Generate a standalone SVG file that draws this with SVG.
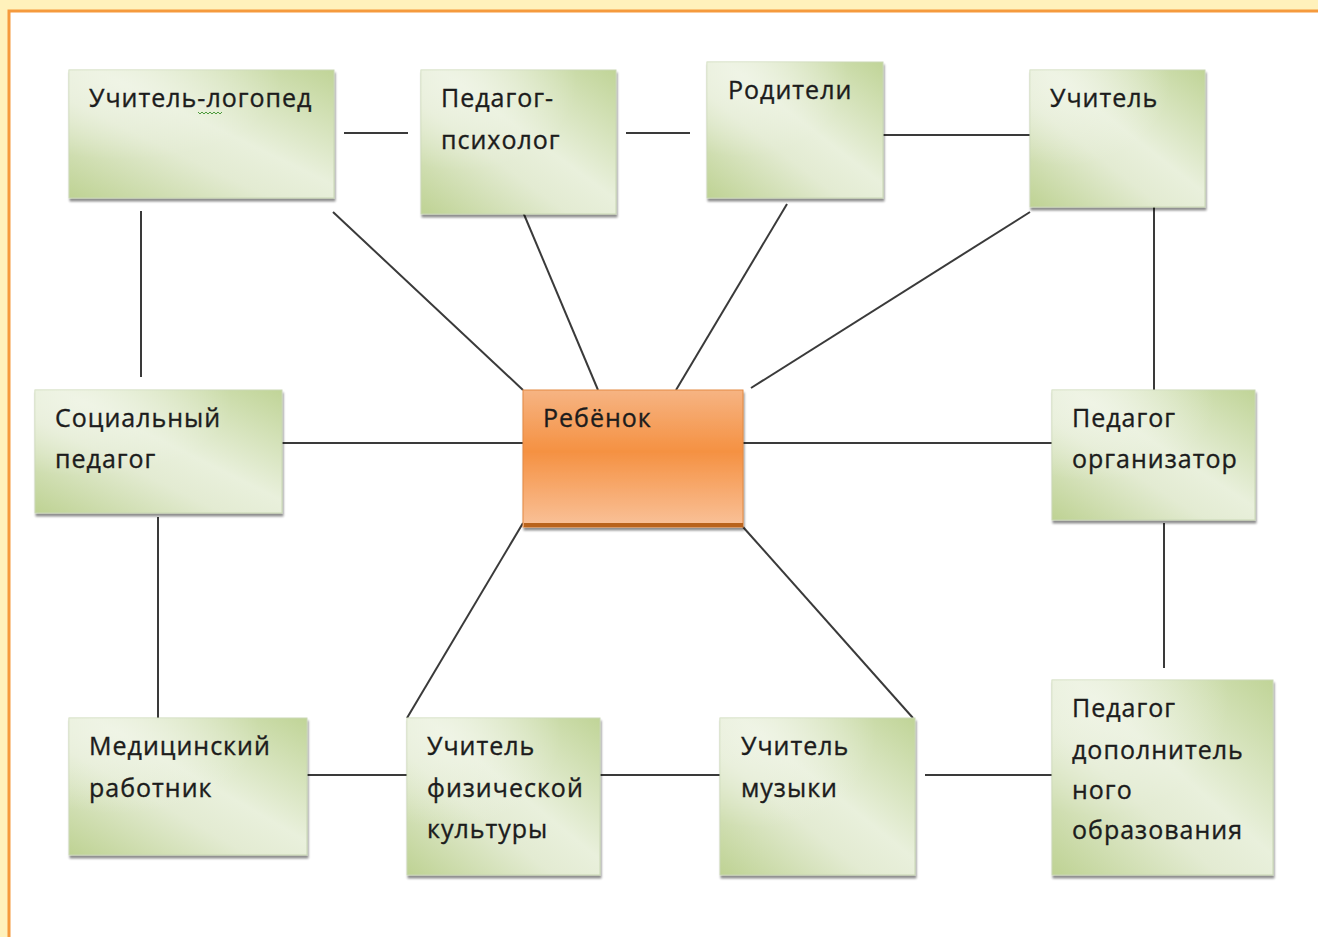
<svg xmlns="http://www.w3.org/2000/svg" width="1318" height="937" viewBox="0 0 1318 937">
<defs>
<linearGradient id="gg" x1="1" y1="0" x2="0" y2="1">
<stop offset="0" stop-color="#c0d497"/>
<stop offset="0.45" stop-color="#e9f0dc"/>
<stop offset="0.62" stop-color="#e3ebd2"/>
<stop offset="1" stop-color="#bed293"/>
</linearGradient>
<radialGradient id="gl" cx="0.2" cy="0.1" r="0.6">
<stop offset="0" stop-color="#f2f6ea" stop-opacity="0.7"/>
<stop offset="1" stop-color="#f2f6ea" stop-opacity="0"/>
</radialGradient>
<linearGradient id="og" x1="0" y1="0" x2="0" y2="1">
<stop offset="0" stop-color="#f6b483"/>
<stop offset="0.45" stop-color="#f59142"/>
<stop offset="1" stop-color="#f9c29a"/>
</linearGradient>
<filter id="sh" x="-5%" y="-5%" width="115%" height="120%">
<feGaussianBlur in="SourceAlpha" stdDeviation="1.2"/>
<feOffset dx="1" dy="3" result="b"/>
<feComponentTransfer><feFuncA type="linear" slope="0.45"/></feComponentTransfer>
<feMerge><feMergeNode/><feMergeNode in="SourceGraphic"/></feMerge>
</filter>
</defs>
<style>
.n{fill:url(#gg);stroke:#c9d7b4;stroke-width:1;filter:url(#sh)}
.hl{fill:url(#gl)}
.c{fill:url(#og);stroke:#e38a45;stroke-width:1;filter:url(#sh)}
.t{font-family:"Open Sans","Noto Sans","DejaVu Sans",sans-serif;font-size:25px;letter-spacing:1px;fill:#1c1c1c;stroke:#1c1c1c;stroke-width:0.35px}
.ln{stroke:#3a3a3a;stroke-width:2;fill:none}
</style>
<rect x="0" y="0" width="1318" height="937" fill="#fff1bb"/>
<rect x="9" y="11" width="1320" height="940" fill="#ffffff" stroke="#f59a3d" stroke-width="3"/>

<g id="connectors">
<line class="ln" x1="344" y1="133" x2="408" y2="133"/>
<line class="ln" x1="626" y1="133" x2="690" y2="133"/>
<line class="ln" x1="883" y1="135" x2="1030" y2="135"/>
<line class="ln" x1="141" y1="211" x2="141" y2="377"/>
<line class="ln" x1="1154" y1="205" x2="1154" y2="390"/>
<line class="ln" x1="158" y1="517" x2="158" y2="718"/>
<line class="ln" x1="1164" y1="523" x2="1164" y2="668"/>
<line class="ln" x1="282" y1="443" x2="523" y2="443"/>
<line class="ln" x1="743" y1="443" x2="1052" y2="443"/>
<line class="ln" x1="307" y1="775" x2="407" y2="775"/>
<line class="ln" x1="600" y1="775" x2="720" y2="775"/>
<line class="ln" x1="925" y1="775" x2="1052" y2="775"/>
<line class="ln" x1="333" y1="212" x2="523" y2="390"/>
<line class="ln" x1="523" y1="212" x2="598" y2="390"/>
<line class="ln" x1="787" y1="204" x2="676" y2="390"/>
<line class="ln" x1="1030" y1="212" x2="751" y2="388"/>
<line class="ln" x1="523" y1="523" x2="407" y2="718"/>
<line class="ln" x1="743" y1="527" x2="913" y2="718"/>
</g>

<g id="n-logoped">
<rect class="n" x="69" y="70" width="265" height="128"/>
<rect class="hl" x="69" y="70" width="265" height="128"/>
<text class="t" x="89" y="107">Учитель-логопед</text>
<polyline points="198,112 200,114 202,112 204,114 206,112 208,114 210,112 212,114 214,112 216,114 218,112 220,114 222,112" fill="none" stroke="#4c9a3c" stroke-width="1"/>
</g>
<g id="n-psiholog">
<rect class="n" x="421" y="70" width="195" height="144"/>
<rect class="hl" x="421" y="70" width="195" height="144"/>
<text class="t" x="441" y="107">Педагог-</text>
<text class="t" x="441" y="149">психолог</text>
</g>
<g id="n-roditeli">
<rect class="n" x="707" y="62" width="176" height="136"/>
<rect class="hl" x="707" y="62" width="176" height="136"/>
<text class="t" x="728" y="99">Родители</text>
</g>
<g id="n-uchitel">
<rect class="n" x="1030" y="70" width="175" height="137"/>
<rect class="hl" x="1030" y="70" width="175" height="137"/>
<text class="t" x="1050" y="107">Учитель</text>
</g>
<g id="n-social">
<rect class="n" x="35" y="390" width="247" height="123"/>
<rect class="hl" x="35" y="390" width="247" height="123"/>
<text class="t" x="55" y="427">Социальный</text>
<text class="t" x="55" y="468">педагог</text>
</g>
<g id="n-rebenok">
<rect class="c" x="523" y="390" width="220" height="137"/>
<rect x="524" y="523" width="219" height="4" fill="#b9631c"/>
<text class="t" x="543" y="427">Ребёнок</text>
</g>
<g id="n-organizator">
<rect class="n" x="1052" y="390" width="203" height="130"/>
<rect class="hl" x="1052" y="390" width="203" height="130"/>
<text class="t" x="1072" y="427">Педагог</text>
<text class="t" x="1072" y="468">организатор</text>
</g>
<g id="n-medic">
<rect class="n" x="69" y="718" width="238" height="137"/>
<rect class="hl" x="69" y="718" width="238" height="137"/>
<text class="t" x="89" y="755">Медицинский</text>
<text class="t" x="89" y="797">работник</text>
</g>
<g id="n-fizra">
<rect class="n" x="407" y="718" width="193" height="157"/>
<rect class="hl" x="407" y="718" width="193" height="157"/>
<text class="t" x="427" y="755">Учитель</text>
<text class="t" x="427" y="797">физической</text>
<text class="t" x="427" y="838">культуры</text>
</g>
<g id="n-muzyka">
<rect class="n" x="720" y="718" width="195" height="157"/>
<rect class="hl" x="720" y="718" width="195" height="157"/>
<text class="t" x="741" y="755">Учитель</text>
<text class="t" x="741" y="797">музыки</text>
</g>
<g id="n-dop">
<rect class="n" x="1052" y="680" width="221" height="195"/>
<rect class="hl" x="1052" y="680" width="221" height="195"/>
<text class="t" x="1072" y="717">Педагог</text>
<text class="t" x="1072" y="759">дополнитель</text>
<text class="t" x="1072" y="799">ного</text>
<text class="t" x="1072" y="839">образования</text>
</g>
</svg>
